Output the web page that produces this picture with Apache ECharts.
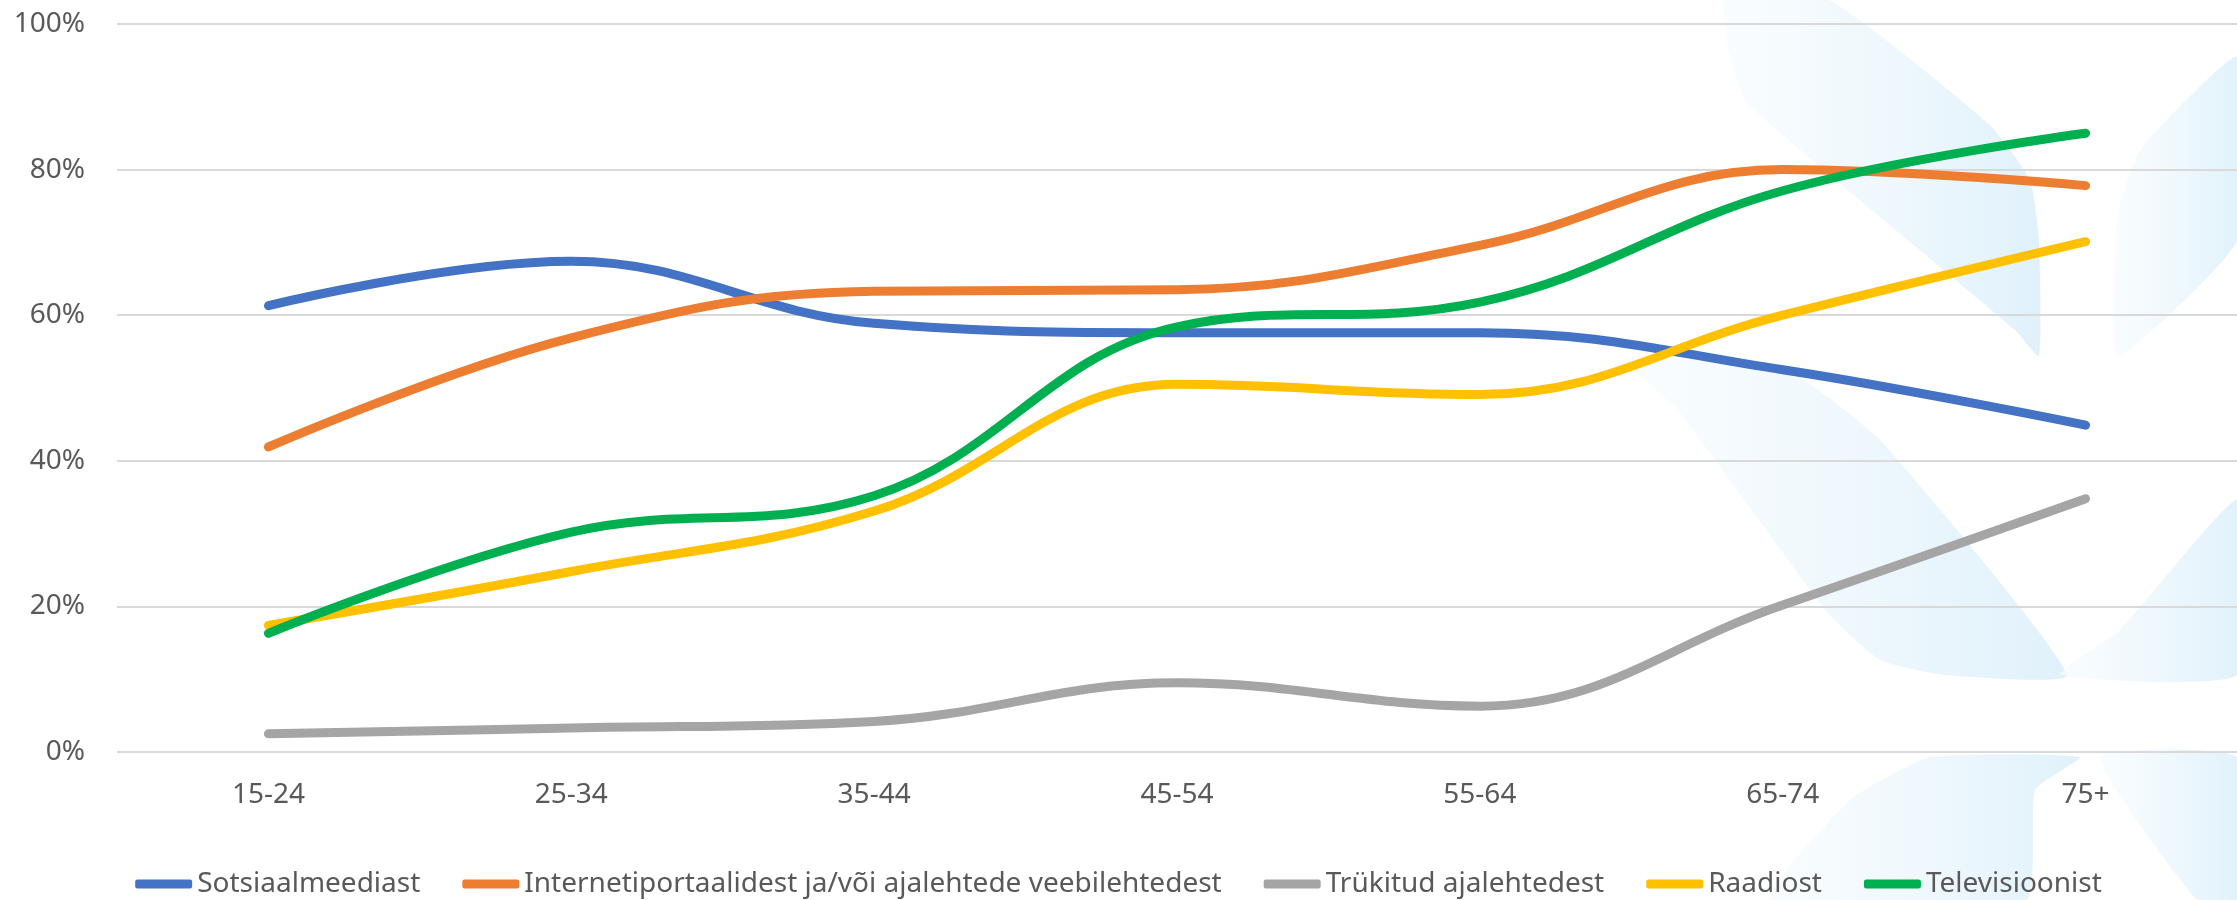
<!DOCTYPE html>
<html>
<head>
<meta charset="utf-8">
<script src="https://cdn.jsdelivr.net/npm/echarts@6/dist/echarts.min.js"></script>
<style>html,body{margin:0;padding:0;background:#fff}#c{width:2237px;height:900px}</style>
</head>
<body>
<div id="c"></div>
<script>
const categories = ['15-24','25-34','35-44','45-54','55-64','65-74','75+'];
const sotsiaal = [61.3, 67.4, 58.9, 57.6, 57.6, 52.5, 44.9];
const internet = [41.9, 56.9, 63.3, 63.5, 69.6, 80.0, 77.8];
const trykitud = [2.5, 3.3, 4.2, 9.5, 6.3, 20.2, 34.8];
const raadio = [17.4, 24.8, 33.1, 50.5, 49.1, 60.0, 70.1];
const televisioon = [16.3, 30.2, 35.2, 58.4, 61.8, 77.1, 85.0];
const seriesNames = ['Sotsiaalmeediast','Internetiportaalidest ja/või ajalehtede veebilehtedest','Trükitud ajalehtedest','Raadiost','Televisioonist'];
const colors = ['#4472C4','#ED7D31','#A5A5A5','#FFC000','#00B050'];
const yTicks = [0, 20, 40, 60, 80, 100];

const chart = echarts.init(document.getElementById('c'), null, {renderer:'canvas'});
const FONT = 'Noto Sans';
const grad = () => new echarts.graphic.LinearGradient(0,0,1,0,[{offset:0,color:'rgba(245,251,254,0.6)'},{offset:1,color:'rgb(224,241,251)'}]);
const deco = [
  [[1726,0],[1829,0],[1990,125],[2030,180],[2039,240],[2039,356],[2015,330],[1800,150],[1745,100],[1728,50]],
  [[1625,358],[1783,368],[1880,440],[2067,675],[1945,675],[1880,660],[1828,613],[1680,413],[1640,375]],
  [[2060,675],[2237,675],[2237,500],[2120,630]],
  [[2117,356],[2117,218],[2140,150],[2237,57],[2237,241]],
  [[1769,900],[1850,800],[1930,757],[2080,757],[2035,790],[2026,900]],
  [[2100,757],[2237,757],[2237,900],[2197,900]]
].map(pts => ({type:'polygon', z:-10, silent:true, shape:{points:pts, smooth:0.15}, style:{fill:grad()}}));

chart.setOption({
  animation:false,
  backgroundColor:'#ffffff',
  color: colors,
  graphic: deco,
  grid:{left:117, right:-5, top:24, bottom:148, containLabel:false},
  legend:{
    bottom:-3, left:'center', itemGap:42, itemWidth:57, itemHeight:9,
    icon:'roundRect',
    textStyle:{fontFamily:FONT, fontSize:28, color:'#595959'},
    data: seriesNames
  },
  xAxis:{
    type:'category', data:categories, boundaryGap:true,
    axisLine:{show:false}, axisTick:{show:false},
    axisLabel:{fontFamily:FONT, fontSize:28, color:'#595959', margin:29}
  },
  yAxis:{
    type:'value', min:0, max:100, interval:20,
    axisLine:{show:false}, axisTick:{show:false},
    splitLine:{lineStyle:{color:'#d9d9d9', width:2}},
    axisLabel:{fontFamily:FONT, fontSize:28, color:'#595959', margin:32, formatter:'{value}%'}
  },
  series:[sotsiaal, internet, trykitud, raadio, televisioon].map((d,i)=>({
    name: seriesNames[i], type:'line', data:d, smooth:0.4,
    showSymbol:false, symbol:'none',
    lineStyle:{width:9, color:colors[i], cap:'round', join:'round'},
    itemStyle:{color:colors[i]}
  }))
});
</script>
</body>
</html>
